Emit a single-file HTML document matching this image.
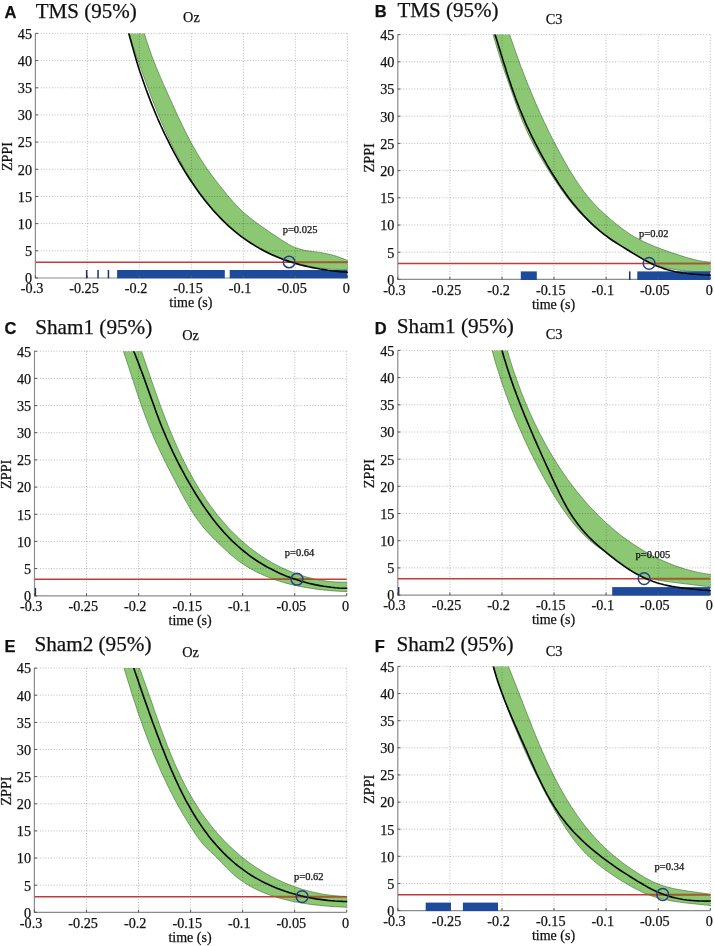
<!DOCTYPE html>
<html><head><meta charset="utf-8"><style>html,body{margin:0;padding:0;background:#fff;}svg{display:block;}</style></head>
<body><svg width="714" height="946" viewBox="0 0 714 946" font-family='"Liberation Serif", serif' fill="#111" style="will-change:transform">
<style>text{stroke:#111;stroke-width:0.25px;}</style>
<rect width="714" height="946" fill="#fff"/>
<path d="M35.4 33.4V278.0H347.4" stroke="#8c8c8c" stroke-width="1.2" fill="none"/>
<clipPath id="clipA"><rect x="35.4" y="33.4" width="312.5" height="245.2"/></clipPath>
<g clip-path="url(#clipA)">
<path d="M143.3 29.4 L144.4 33.4 L145.4 36.9 L146.5 40.4 L147.6 43.9 L148.8 47.3 L150.0 50.7 L151.2 54.2 L152.4 57.6 L153.7 61.0 L155.1 64.3 L156.4 67.7 L157.8 71.1 L159.2 74.4 L160.6 77.7 L162.1 81.1 L163.5 84.4 L165.0 87.7 L166.5 91.0 L168.0 94.4 L169.5 97.7 L171.0 101.0 L172.5 104.3 L174.0 107.6 L175.5 110.9 L177.0 114.2 L178.5 117.5 L180.1 120.8 L181.7 124.1 L183.3 127.4 L184.9 130.6 L186.5 133.9 L188.2 137.1 L189.8 140.3 L191.6 143.5 L193.3 146.7 L195.1 149.8 L196.9 153.0 L198.8 156.1 L200.7 159.2 L202.7 162.2 L204.7 165.2 L206.7 168.2 L208.8 171.2 L210.9 174.2 L213.1 177.1 L215.3 180.0 L217.5 182.8 L219.8 185.7 L222.0 188.5 L224.3 191.3 L226.6 194.2 L228.9 197.0 L231.3 199.7 L233.7 202.5 L236.1 205.1 L238.6 207.7 L241.2 210.3 L243.9 212.7 L246.7 215.1 L249.5 217.4 L252.3 219.6 L255.2 221.8 L258.1 224.0 L261.1 226.1 L264.1 228.2 L267.1 230.2 L270.1 232.3 L273.1 234.3 L276.2 236.3 L279.2 238.4 L282.3 240.4 L285.3 242.3 L288.4 244.2 L291.6 245.9 L294.9 247.4 L298.2 248.6 L301.6 249.6 L305.1 250.4 L308.7 251.0 L312.3 251.5 L315.9 251.9 L319.6 252.4 L323.2 253.0 L326.7 253.7 L330.3 254.5 L333.8 255.4 L337.3 256.5 L340.7 257.8 L344.1 259.1 L347.4 260.6 L351.4 262.5 L351.4 269.3 L347.4 269.4 L343.5 269.5 L339.6 269.5 L335.7 269.4 L331.8 269.2 L327.8 268.9 L323.9 268.5 L320.0 268.0 L316.2 267.5 L312.3 266.8 L308.4 266.1 L304.6 265.2 L300.8 264.3 L297.0 263.3 L293.2 262.2 L289.5 261.0 L285.7 259.7 L282.1 258.3 L278.4 256.9 L274.8 255.4 L271.2 253.8 L267.7 252.1 L264.2 250.3 L260.7 248.5 L257.3 246.5 L253.9 244.6 L250.6 242.5 L247.3 240.3 L244.1 238.1 L241.0 235.8 L237.9 233.5 L234.9 231.0 L231.9 228.5 L229.0 226.0 L226.1 223.3 L223.3 220.6 L220.6 217.9 L217.9 215.1 L215.3 212.2 L212.7 209.3 L210.2 206.3 L207.7 203.3 L205.3 200.2 L202.9 197.1 L200.6 193.9 L198.3 190.7 L196.1 187.5 L193.9 184.2 L191.8 180.9 L189.7 177.5 L187.7 174.2 L185.6 170.8 L183.7 167.3 L181.7 163.9 L179.9 160.4 L178.0 156.9 L176.2 153.4 L174.4 149.9 L172.6 146.4 L170.9 142.8 L169.2 139.3 L167.6 135.7 L166.0 132.2 L164.4 128.6 L162.8 125.0 L161.2 121.4 L159.7 117.8 L158.2 114.2 L156.7 110.6 L155.3 107.0 L153.8 103.4 L152.4 99.7 L151.0 96.1 L149.6 92.5 L148.3 88.8 L146.9 85.2 L145.6 81.5 L144.2 77.8 L142.9 74.2 L141.6 70.5 L140.3 66.8 L139.0 63.1 L137.7 59.4 L136.4 55.7 L135.1 52.0 L133.8 48.3 L132.6 44.6 L131.3 40.8 L130.0 37.1 L128.7 33.4 L127.3 29.4Z" fill="#8cc873" stroke="#4a7a3e" stroke-width="0.8" stroke-opacity="0.85" stroke-linejoin="round"/>
</g><path d="M87.4 33.4V278.0 M139.4 33.4V278.0 M191.4 33.4V278.0 M243.4 33.4V278.0 M295.4 33.4V278.0 M347.4 33.4V278.0 M35.4 250.8H347.4 M35.4 223.6H347.4 M35.4 196.5H347.4 M35.4 169.3H347.4 M35.4 142.1H347.4 M35.4 114.9H347.4 M35.4 87.8H347.4 M35.4 60.6H347.4 M35.4 33.4H347.4" stroke="#000" stroke-opacity="0.27" stroke-width="1" stroke-dasharray="1 1.75" fill="none"/><g clip-path="url(#clipA)">
<path d="M35.4 262.3H347.4" stroke="#c43a3a" stroke-width="1.5"/>
<clipPath id="bclipA"><path d="M143.3 29.4 L144.4 33.4 L145.4 36.9 L146.5 40.4 L147.6 43.9 L148.8 47.3 L150.0 50.7 L151.2 54.2 L152.4 57.6 L153.7 61.0 L155.1 64.3 L156.4 67.7 L157.8 71.1 L159.2 74.4 L160.6 77.7 L162.1 81.1 L163.5 84.4 L165.0 87.7 L166.5 91.0 L168.0 94.4 L169.5 97.7 L171.0 101.0 L172.5 104.3 L174.0 107.6 L175.5 110.9 L177.0 114.2 L178.5 117.5 L180.1 120.8 L181.7 124.1 L183.3 127.4 L184.9 130.6 L186.5 133.9 L188.2 137.1 L189.8 140.3 L191.6 143.5 L193.3 146.7 L195.1 149.8 L196.9 153.0 L198.8 156.1 L200.7 159.2 L202.7 162.2 L204.7 165.2 L206.7 168.2 L208.8 171.2 L210.9 174.2 L213.1 177.1 L215.3 180.0 L217.5 182.8 L219.8 185.7 L222.0 188.5 L224.3 191.3 L226.6 194.2 L228.9 197.0 L231.3 199.7 L233.7 202.5 L236.1 205.1 L238.6 207.7 L241.2 210.3 L243.9 212.7 L246.7 215.1 L249.5 217.4 L252.3 219.6 L255.2 221.8 L258.1 224.0 L261.1 226.1 L264.1 228.2 L267.1 230.2 L270.1 232.3 L273.1 234.3 L276.2 236.3 L279.2 238.4 L282.3 240.4 L285.3 242.3 L288.4 244.2 L291.6 245.9 L294.9 247.4 L298.2 248.6 L301.6 249.6 L305.1 250.4 L308.7 251.0 L312.3 251.5 L315.9 251.9 L319.6 252.4 L323.2 253.0 L326.7 253.7 L330.3 254.5 L333.8 255.4 L337.3 256.5 L340.7 257.8 L344.1 259.1 L347.4 260.6 L351.4 262.5 L351.4 269.3 L347.4 269.4 L343.5 269.5 L339.6 269.5 L335.7 269.4 L331.8 269.2 L327.8 268.9 L323.9 268.5 L320.0 268.0 L316.2 267.5 L312.3 266.8 L308.4 266.1 L304.6 265.2 L300.8 264.3 L297.0 263.3 L293.2 262.2 L289.5 261.0 L285.7 259.7 L282.1 258.3 L278.4 256.9 L274.8 255.4 L271.2 253.8 L267.7 252.1 L264.2 250.3 L260.7 248.5 L257.3 246.5 L253.9 244.6 L250.6 242.5 L247.3 240.3 L244.1 238.1 L241.0 235.8 L237.9 233.5 L234.9 231.0 L231.9 228.5 L229.0 226.0 L226.1 223.3 L223.3 220.6 L220.6 217.9 L217.9 215.1 L215.3 212.2 L212.7 209.3 L210.2 206.3 L207.7 203.3 L205.3 200.2 L202.9 197.1 L200.6 193.9 L198.3 190.7 L196.1 187.5 L193.9 184.2 L191.8 180.9 L189.7 177.5 L187.7 174.2 L185.6 170.8 L183.7 167.3 L181.7 163.9 L179.9 160.4 L178.0 156.9 L176.2 153.4 L174.4 149.9 L172.6 146.4 L170.9 142.8 L169.2 139.3 L167.6 135.7 L166.0 132.2 L164.4 128.6 L162.8 125.0 L161.2 121.4 L159.7 117.8 L158.2 114.2 L156.7 110.6 L155.3 107.0 L153.8 103.4 L152.4 99.7 L151.0 96.1 L149.6 92.5 L148.3 88.8 L146.9 85.2 L145.6 81.5 L144.2 77.8 L142.9 74.2 L141.6 70.5 L140.3 66.8 L139.0 63.1 L137.7 59.4 L136.4 55.7 L135.1 52.0 L133.8 48.3 L132.6 44.6 L131.3 40.8 L130.0 37.1 L128.7 33.4 L127.3 29.4Z"/></clipPath>
<path d="M35.4 262.3H347.4" stroke="#9a5e2a" stroke-width="1.7" clip-path="url(#bclipA)"/>
<rect x="117.1" y="270.0" width="107.7" height="8.6" fill="#1e4a9c"/>
<rect x="229.7" y="270.0" width="117.7" height="8.6" fill="#1e4a9c"/>
<rect x="85.9" y="270.0" width="1.5" height="8.6" fill="#1c2f6e"/>
<rect x="97.3" y="270.0" width="1.5" height="8.6" fill="#1c2f6e"/>
<rect x="107.7" y="270.0" width="1.5" height="8.6" fill="#1c2f6e"/>
<path d="M127.8 29.3 L128.8 33.3 L129.8 37.2 L130.9 41.0 L131.9 44.8 L133.0 48.6 L134.1 52.4 L135.2 56.2 L136.3 59.9 L137.4 63.7 L138.6 67.5 L139.8 71.2 L141.1 74.9 L142.3 78.6 L143.6 82.3 L144.9 86.0 L146.2 89.7 L147.6 93.4 L149.0 97.1 L150.4 100.7 L151.8 104.4 L153.3 108.0 L154.8 111.6 L156.3 115.2 L157.8 118.8 L159.4 122.4 L161.0 126.0 L162.7 129.6 L164.3 133.1 L166.0 136.7 L167.8 140.2 L169.5 143.7 L171.3 147.2 L173.1 150.7 L175.0 154.2 L176.9 157.6 L178.8 161.1 L180.8 164.5 L182.8 167.9 L184.8 171.3 L186.9 174.7 L189.0 178.0 L191.2 181.3 L193.4 184.5 L195.6 187.8 L197.9 191.0 L200.2 194.2 L202.6 197.3 L205.0 200.4 L207.5 203.5 L210.0 206.5 L212.5 209.5 L215.1 212.4 L217.8 215.3 L220.5 218.1 L223.2 220.9 L226.1 223.6 L228.9 226.3 L231.9 228.9 L234.8 231.4 L237.9 233.9 L241.0 236.3 L244.2 238.6 L247.4 240.9 L250.6 243.0 L254.0 245.1 L257.3 247.1 L260.7 249.1 L264.2 250.9 L267.7 252.7 L271.3 254.4 L274.8 256.0 L278.5 257.6 L282.1 259.0 L285.8 260.4 L289.5 261.6 L293.3 262.8 L297.1 263.9 L300.9 265.0 L304.7 265.9 L308.5 266.8 L312.4 267.6 L316.2 268.3 L320.1 269.0 L324.0 269.6 L327.9 270.2 L331.8 270.7 L335.7 271.1 L339.6 271.6 L343.5 271.9 L347.4 272.2 L351.4 272.6" stroke="#080808" stroke-width="1.65" fill="none" stroke-linejoin="round"/>
</g>
<circle cx="289.1" cy="262" r="5.8" stroke="#25408a" stroke-width="1.5" fill="none"/>
<text x="282.7" y="232.9" font-size="10.5">p=0.025</text>
<path d="M35.4 278.0h2.6 M35.4 250.8h2.6 M35.4 223.6h2.6 M35.4 196.5h2.6 M35.4 169.3h2.6 M35.4 142.1h2.6 M35.4 114.9h2.6 M35.4 87.8h2.6 M35.4 60.6h2.6 M35.4 33.4h2.6 M35.4 278.0v-2.6 M87.4 278.0v-2.6 M139.4 278.0v-2.6 M191.4 278.0v-2.6 M243.4 278.0v-2.6 M295.4 278.0v-2.6 M347.4 278.0v-2.6" stroke="#555" stroke-width="1" fill="none"/>
<text x="32.0" y="283.3" text-anchor="end" font-size="14.2">0</text>
<text x="32.0" y="256.1" text-anchor="end" font-size="14.2">5</text>
<text x="32.0" y="228.9" text-anchor="end" font-size="14.2">10</text>
<text x="32.0" y="201.8" text-anchor="end" font-size="14.2">15</text>
<text x="32.0" y="174.6" text-anchor="end" font-size="14.2">20</text>
<text x="32.0" y="147.4" text-anchor="end" font-size="14.2">25</text>
<text x="32.0" y="120.2" text-anchor="end" font-size="14.2">30</text>
<text x="32.0" y="93.1" text-anchor="end" font-size="14.2">35</text>
<text x="32.0" y="65.9" text-anchor="end" font-size="14.2">40</text>
<text x="32.0" y="38.7" text-anchor="end" font-size="14.2">45</text>
<text x="43.3" y="293.2" text-anchor="end" font-size="14.2">-0.3</text>
<text x="98.8" y="293.2" text-anchor="end" font-size="14.2">-0.25</text>
<text x="147.3" y="293.2" text-anchor="end" font-size="14.2">-0.2</text>
<text x="202.8" y="293.2" text-anchor="end" font-size="14.2">-0.15</text>
<text x="251.3" y="293.2" text-anchor="end" font-size="14.2">-0.1</text>
<text x="306.8" y="293.2" text-anchor="end" font-size="14.2">-0.05</text>
<text x="349.9" y="293.2" text-anchor="end" font-size="14.2">0</text>
<text x="190.9" y="307.3" text-anchor="middle" font-size="14">time (s)</text>
<text transform="translate(11.9 156.5) rotate(-90)" text-anchor="middle" font-size="14.2">ZPPI</text>
<text x="4.5" y="17.6" font-family='"Liberation Sans", sans-serif' font-weight="bold" font-size="16.5">A</text>
<text x="35.8" y="17.6" font-size="21">TMS (95%)</text>
<text x="191.4" y="21.7" text-anchor="middle" font-size="14.3">Oz</text>
<path d="M397.8 34.6V279.4H710.3" stroke="#8c8c8c" stroke-width="1.2" fill="none"/>
<clipPath id="clipB"><rect x="397.8" y="34.6" width="313.0" height="245.4"/></clipPath>
<g clip-path="url(#clipB)">
<path d="M508.3 30.6 L509.7 34.6 L510.8 38.1 L512.0 41.5 L513.2 44.9 L514.4 48.3 L515.6 51.8 L516.8 55.2 L518.0 58.6 L519.3 62.0 L520.5 65.4 L521.8 68.8 L523.1 72.2 L524.4 75.6 L525.7 79.0 L527.1 82.4 L528.4 85.7 L529.8 89.1 L531.2 92.4 L532.6 95.8 L534.0 99.1 L535.4 102.5 L536.9 105.8 L538.4 109.1 L539.8 112.5 L541.3 115.8 L542.9 119.1 L544.4 122.4 L546.0 125.6 L547.5 128.9 L549.1 132.2 L550.8 135.4 L552.4 138.7 L554.0 141.9 L555.7 145.1 L557.4 148.3 L559.1 151.5 L560.9 154.7 L562.6 157.9 L564.4 161.1 L566.2 164.2 L568.0 167.4 L569.8 170.5 L571.7 173.6 L573.7 176.7 L575.6 179.7 L577.6 182.7 L579.7 185.7 L581.8 188.7 L583.9 191.6 L586.1 194.4 L588.4 197.2 L590.7 200.0 L593.1 202.7 L595.6 205.3 L598.1 207.9 L600.7 210.5 L603.4 213.0 L606.1 215.4 L608.9 217.8 L611.6 220.2 L614.4 222.5 L617.3 224.8 L620.1 227.1 L623.0 229.3 L626.0 231.4 L628.9 233.4 L632.0 235.4 L635.0 237.2 L638.2 238.9 L641.4 240.6 L644.6 242.1 L647.9 243.6 L651.2 245.0 L654.5 246.4 L657.9 247.7 L661.3 249.0 L664.8 250.3 L668.2 251.5 L671.7 252.7 L675.1 253.8 L678.6 255.0 L682.0 256.1 L685.5 257.2 L689.0 258.2 L692.5 259.1 L696.0 260.0 L699.5 260.7 L703.1 261.4 L706.6 261.8 L710.2 262.2 L714.2 262.5 L714.4 271.8 L710.4 271.8 L706.4 271.8 L702.5 271.8 L698.5 271.7 L694.6 271.6 L690.6 271.3 L686.7 271.0 L682.8 270.7 L678.9 270.2 L675.0 269.6 L671.2 268.9 L667.4 268.1 L663.7 267.1 L660.0 266.0 L656.4 264.7 L652.8 263.3 L649.3 261.7 L645.8 260.0 L642.3 258.2 L638.9 256.4 L635.5 254.4 L632.1 252.5 L628.7 250.5 L625.4 248.5 L622.0 246.4 L618.7 244.3 L615.4 242.1 L612.1 239.9 L608.8 237.7 L605.6 235.4 L602.5 233.0 L599.3 230.6 L596.3 228.2 L593.3 225.7 L590.4 223.1 L587.5 220.5 L584.7 217.8 L582.0 215.0 L579.3 212.2 L576.7 209.3 L574.2 206.4 L571.7 203.4 L569.3 200.4 L566.9 197.3 L564.6 194.2 L562.3 191.0 L560.1 187.8 L557.8 184.6 L555.7 181.4 L553.5 178.1 L551.4 174.8 L549.3 171.5 L547.2 168.2 L545.2 164.8 L543.1 161.5 L541.1 158.1 L539.2 154.7 L537.2 151.2 L535.3 147.8 L533.5 144.4 L531.7 140.9 L529.9 137.4 L528.2 133.9 L526.6 130.4 L525.0 126.8 L523.4 123.3 L521.9 119.7 L520.5 116.1 L519.1 112.4 L517.7 108.8 L516.4 105.1 L515.1 101.4 L513.8 97.8 L512.5 94.1 L511.2 90.4 L509.9 86.7 L508.6 83.0 L507.3 79.3 L506.0 75.6 L504.7 71.9 L503.5 68.2 L502.3 64.5 L501.0 60.8 L499.8 57.1 L498.7 53.3 L497.5 49.6 L496.4 45.9 L495.3 42.1 L494.2 38.4 L493.1 34.6 L492.0 30.6Z" fill="#8cc873" stroke="#4a7a3e" stroke-width="0.8" stroke-opacity="0.85" stroke-linejoin="round"/>
</g><path d="M449.9 34.6V279.4 M502.0 34.6V279.4 M554.0 34.6V279.4 M606.1 34.6V279.4 M658.2 34.6V279.4 M710.3 34.6V279.4 M397.8 252.2H710.3 M397.8 225.0H710.3 M397.8 197.8H710.3 M397.8 170.6H710.3 M397.8 143.4H710.3 M397.8 116.2H710.3 M397.8 89.0H710.3 M397.8 61.8H710.3 M397.8 34.6H710.3" stroke="#000" stroke-opacity="0.27" stroke-width="1" stroke-dasharray="1 1.75" fill="none"/><g clip-path="url(#clipB)">
<path d="M397.8 263.5H710.3" stroke="#c43a3a" stroke-width="1.5"/>
<clipPath id="bclipB"><path d="M508.3 30.6 L509.7 34.6 L510.8 38.1 L512.0 41.5 L513.2 44.9 L514.4 48.3 L515.6 51.8 L516.8 55.2 L518.0 58.6 L519.3 62.0 L520.5 65.4 L521.8 68.8 L523.1 72.2 L524.4 75.6 L525.7 79.0 L527.1 82.4 L528.4 85.7 L529.8 89.1 L531.2 92.4 L532.6 95.8 L534.0 99.1 L535.4 102.5 L536.9 105.8 L538.4 109.1 L539.8 112.5 L541.3 115.8 L542.9 119.1 L544.4 122.4 L546.0 125.6 L547.5 128.9 L549.1 132.2 L550.8 135.4 L552.4 138.7 L554.0 141.9 L555.7 145.1 L557.4 148.3 L559.1 151.5 L560.9 154.7 L562.6 157.9 L564.4 161.1 L566.2 164.2 L568.0 167.4 L569.8 170.5 L571.7 173.6 L573.7 176.7 L575.6 179.7 L577.6 182.7 L579.7 185.7 L581.8 188.7 L583.9 191.6 L586.1 194.4 L588.4 197.2 L590.7 200.0 L593.1 202.7 L595.6 205.3 L598.1 207.9 L600.7 210.5 L603.4 213.0 L606.1 215.4 L608.9 217.8 L611.6 220.2 L614.4 222.5 L617.3 224.8 L620.1 227.1 L623.0 229.3 L626.0 231.4 L628.9 233.4 L632.0 235.4 L635.0 237.2 L638.2 238.9 L641.4 240.6 L644.6 242.1 L647.9 243.6 L651.2 245.0 L654.5 246.4 L657.9 247.7 L661.3 249.0 L664.8 250.3 L668.2 251.5 L671.7 252.7 L675.1 253.8 L678.6 255.0 L682.0 256.1 L685.5 257.2 L689.0 258.2 L692.5 259.1 L696.0 260.0 L699.5 260.7 L703.1 261.4 L706.6 261.8 L710.2 262.2 L714.2 262.5 L714.4 271.8 L710.4 271.8 L706.4 271.8 L702.5 271.8 L698.5 271.7 L694.6 271.6 L690.6 271.3 L686.7 271.0 L682.8 270.7 L678.9 270.2 L675.0 269.6 L671.2 268.9 L667.4 268.1 L663.7 267.1 L660.0 266.0 L656.4 264.7 L652.8 263.3 L649.3 261.7 L645.8 260.0 L642.3 258.2 L638.9 256.4 L635.5 254.4 L632.1 252.5 L628.7 250.5 L625.4 248.5 L622.0 246.4 L618.7 244.3 L615.4 242.1 L612.1 239.9 L608.8 237.7 L605.6 235.4 L602.5 233.0 L599.3 230.6 L596.3 228.2 L593.3 225.7 L590.4 223.1 L587.5 220.5 L584.7 217.8 L582.0 215.0 L579.3 212.2 L576.7 209.3 L574.2 206.4 L571.7 203.4 L569.3 200.4 L566.9 197.3 L564.6 194.2 L562.3 191.0 L560.1 187.8 L557.8 184.6 L555.7 181.4 L553.5 178.1 L551.4 174.8 L549.3 171.5 L547.2 168.2 L545.2 164.8 L543.1 161.5 L541.1 158.1 L539.2 154.7 L537.2 151.2 L535.3 147.8 L533.5 144.4 L531.7 140.9 L529.9 137.4 L528.2 133.9 L526.6 130.4 L525.0 126.8 L523.4 123.3 L521.9 119.7 L520.5 116.1 L519.1 112.4 L517.7 108.8 L516.4 105.1 L515.1 101.4 L513.8 97.8 L512.5 94.1 L511.2 90.4 L509.9 86.7 L508.6 83.0 L507.3 79.3 L506.0 75.6 L504.7 71.9 L503.5 68.2 L502.3 64.5 L501.0 60.8 L499.8 57.1 L498.7 53.3 L497.5 49.6 L496.4 45.9 L495.3 42.1 L494.2 38.4 L493.1 34.6 L492.0 30.6Z"/></clipPath>
<path d="M397.8 263.5H710.3" stroke="#9a5e2a" stroke-width="1.7" clip-path="url(#bclipB)"/>
<rect x="520.8" y="271.4" width="16.0" height="8.6" fill="#1e4a9c"/>
<rect x="637.3" y="271.4" width="73.0" height="8.6" fill="#1e4a9c"/>
<rect x="629.0" y="271.4" width="1.5" height="8.6" fill="#1c2f6e"/>
<path d="M493.7 30.6 L495.0 34.6 L496.2 38.3 L497.4 42.0 L498.5 45.7 L499.7 49.5 L500.8 53.2 L502.0 56.9 L503.1 60.7 L504.3 64.4 L505.5 68.1 L506.6 71.9 L507.8 75.6 L509.0 79.3 L510.3 83.0 L511.5 86.7 L512.8 90.4 L514.1 94.1 L515.4 97.8 L516.8 101.5 L518.2 105.1 L519.6 108.7 L521.1 112.3 L522.6 115.9 L524.1 119.5 L525.6 123.1 L527.2 126.6 L528.9 130.1 L530.5 133.6 L532.2 137.1 L534.0 140.6 L535.7 144.1 L537.5 147.5 L539.3 151.0 L541.2 154.4 L543.1 157.8 L545.0 161.2 L546.9 164.6 L548.9 168.0 L550.9 171.4 L553.0 174.7 L555.1 178.0 L557.2 181.3 L559.3 184.6 L561.5 187.8 L563.8 191.0 L566.1 194.2 L568.4 197.4 L570.8 200.5 L573.2 203.5 L575.7 206.5 L578.2 209.5 L580.8 212.4 L583.4 215.3 L586.1 218.1 L588.8 220.9 L591.6 223.6 L594.5 226.3 L597.4 228.9 L600.3 231.4 L603.4 233.8 L606.5 236.2 L609.6 238.5 L612.9 240.7 L616.1 242.8 L619.4 244.9 L622.7 246.9 L626.1 249.0 L629.4 251.0 L632.7 253.1 L636.1 255.1 L639.4 257.1 L642.8 259.1 L646.2 261.0 L649.7 262.7 L653.2 264.4 L656.8 265.9 L660.4 267.3 L664.0 268.6 L667.7 269.8 L671.5 270.8 L675.3 271.7 L679.1 272.4 L683.0 273.0 L686.9 273.5 L690.8 273.9 L694.7 274.2 L698.7 274.5 L702.6 274.8 L706.5 275.0 L710.3 275.3 L714.3 275.5" stroke="#080808" stroke-width="1.65" fill="none" stroke-linejoin="round"/>
</g>
<circle cx="649.1" cy="263.4" r="5.9" stroke="#25408a" stroke-width="1.5" fill="none"/>
<text x="639" y="236.7" font-size="10.5">p=0.02</text>
<path d="M397.8 279.4h2.6 M397.8 252.2h2.6 M397.8 225.0h2.6 M397.8 197.8h2.6 M397.8 170.6h2.6 M397.8 143.4h2.6 M397.8 116.2h2.6 M397.8 89.0h2.6 M397.8 61.8h2.6 M397.8 34.6h2.6 M397.8 279.4v-2.6 M449.9 279.4v-2.6 M502.0 279.4v-2.6 M554.0 279.4v-2.6 M606.1 279.4v-2.6 M658.2 279.4v-2.6 M710.3 279.4v-2.6" stroke="#555" stroke-width="1" fill="none"/>
<text x="394.4" y="284.7" text-anchor="end" font-size="14.2">0</text>
<text x="394.4" y="257.5" text-anchor="end" font-size="14.2">5</text>
<text x="394.4" y="230.3" text-anchor="end" font-size="14.2">10</text>
<text x="394.4" y="203.1" text-anchor="end" font-size="14.2">15</text>
<text x="394.4" y="175.9" text-anchor="end" font-size="14.2">20</text>
<text x="394.4" y="148.7" text-anchor="end" font-size="14.2">25</text>
<text x="394.4" y="121.5" text-anchor="end" font-size="14.2">30</text>
<text x="394.4" y="94.3" text-anchor="end" font-size="14.2">35</text>
<text x="394.4" y="67.1" text-anchor="end" font-size="14.2">40</text>
<text x="394.4" y="39.9" text-anchor="end" font-size="14.2">45</text>
<text x="405.7" y="294.6" text-anchor="end" font-size="14.2">-0.3</text>
<text x="461.3" y="294.6" text-anchor="end" font-size="14.2">-0.25</text>
<text x="509.8" y="294.6" text-anchor="end" font-size="14.2">-0.2</text>
<text x="565.5" y="294.6" text-anchor="end" font-size="14.2">-0.15</text>
<text x="614.0" y="294.6" text-anchor="end" font-size="14.2">-0.1</text>
<text x="669.6" y="294.6" text-anchor="end" font-size="14.2">-0.05</text>
<text x="712.8" y="294.6" text-anchor="end" font-size="14.2">0</text>
<text x="553.5" y="308.7" text-anchor="middle" font-size="14">time (s)</text>
<text transform="translate(374.3 157.8) rotate(-90)" text-anchor="middle" font-size="14.2">ZPPI</text>
<text x="374.7" y="17.1" font-family='"Liberation Sans", sans-serif' font-weight="bold" font-size="16.5">B</text>
<text x="397.5" y="16.8" font-size="21">TMS (95%)</text>
<text x="554.0" y="23.8" text-anchor="middle" font-size="14.3">C3</text>
<path d="M34.5 351.2V595.8H346.7" stroke="#8c8c8c" stroke-width="1.2" fill="none"/>
<clipPath id="clipC"><rect x="34.5" y="351.2" width="312.7" height="245.2"/></clipPath>
<g clip-path="url(#clipC)">
<path d="M140.2 347.4 L141.5 351.4 L142.7 354.9 L143.9 358.3 L145.1 361.8 L146.3 365.3 L147.5 368.8 L148.7 372.3 L149.9 375.8 L151.1 379.3 L152.3 382.8 L153.6 386.4 L154.8 389.9 L156.0 393.4 L157.3 396.9 L158.6 400.4 L159.8 404.0 L161.1 407.5 L162.4 411.0 L163.8 414.5 L165.1 418.0 L166.5 421.5 L167.8 425.0 L169.2 428.5 L170.7 432.0 L172.1 435.4 L173.6 438.9 L175.1 442.3 L176.6 445.8 L178.1 449.2 L179.7 452.6 L181.3 456.0 L182.9 459.3 L184.6 462.7 L186.3 466.0 L188.0 469.4 L189.8 472.7 L191.6 476.0 L193.4 479.2 L195.3 482.5 L197.2 485.7 L199.1 488.9 L201.1 492.1 L203.2 495.2 L205.2 498.4 L207.4 501.4 L209.5 504.5 L211.7 507.5 L214.0 510.5 L216.2 513.5 L218.6 516.4 L221.0 519.3 L223.4 522.1 L225.8 524.9 L228.3 527.7 L230.9 530.4 L233.5 533.0 L236.1 535.6 L238.8 538.2 L241.6 540.7 L244.4 543.1 L247.2 545.5 L250.1 547.9 L253.0 550.1 L256.0 552.3 L259.0 554.5 L262.1 556.6 L265.2 558.6 L268.4 560.5 L271.6 562.4 L274.8 564.2 L278.1 565.9 L281.4 567.6 L284.8 569.1 L288.2 570.6 L291.6 572.0 L295.1 573.3 L298.6 574.6 L302.2 575.7 L305.8 576.8 L309.4 577.8 L313.1 578.7 L316.7 579.5 L320.5 580.2 L324.2 580.8 L328.0 581.3 L331.8 581.7 L335.6 582.0 L339.5 582.1 L343.4 582.2 L347.3 582.2 L351.3 582.2 L350.7 591.8 L346.7 591.6 L342.7 591.4 L338.7 591.2 L334.8 591.0 L330.8 590.7 L326.8 590.3 L322.8 589.9 L318.7 589.4 L314.7 588.9 L310.7 588.3 L306.7 587.7 L302.8 587.0 L298.8 586.2 L294.9 585.3 L290.9 584.4 L287.0 583.4 L283.2 582.3 L279.3 581.1 L275.5 579.9 L271.7 578.5 L268.0 577.1 L264.3 575.6 L260.7 573.9 L257.1 572.2 L253.6 570.4 L250.1 568.5 L246.7 566.4 L243.3 564.3 L240.0 562.0 L236.8 559.6 L233.7 557.1 L230.6 554.5 L227.6 551.8 L224.6 549.0 L221.6 546.3 L218.7 543.4 L215.8 540.6 L212.9 537.7 L210.1 534.8 L207.4 531.9 L204.7 528.9 L202.1 525.8 L199.7 522.6 L197.3 519.4 L195.0 516.2 L192.8 512.8 L190.7 509.5 L188.7 506.0 L186.7 502.6 L184.7 499.1 L182.8 495.6 L180.9 492.1 L179.1 488.5 L177.2 485.0 L175.3 481.4 L173.5 477.9 L171.6 474.3 L169.8 470.7 L167.9 467.2 L166.1 463.6 L164.3 460.0 L162.6 456.4 L160.8 452.8 L159.1 449.1 L157.4 445.5 L155.7 441.9 L154.1 438.2 L152.5 434.5 L151.0 430.8 L149.5 427.1 L148.0 423.4 L146.6 419.6 L145.2 415.9 L143.8 412.1 L142.4 408.3 L141.1 404.6 L139.8 400.8 L138.5 397.0 L137.2 393.2 L136.0 389.3 L134.7 385.5 L133.5 381.7 L132.2 377.9 L131.0 374.1 L129.7 370.3 L128.5 366.4 L127.2 362.6 L126.0 358.8 L124.7 355.0 L123.4 351.2 L122.0 347.2Z" fill="#8cc873" stroke="#4a7a3e" stroke-width="0.8" stroke-opacity="0.85" stroke-linejoin="round"/>
</g><path d="M86.5 351.2V595.8 M138.6 351.2V595.8 M190.6 351.2V595.8 M242.6 351.2V595.8 M294.7 351.2V595.8 M346.7 351.2V595.8 M34.5 568.6H346.7 M34.5 541.4H346.7 M34.5 514.3H346.7 M34.5 487.1H346.7 M34.5 459.9H346.7 M34.5 432.7H346.7 M34.5 405.6H346.7 M34.5 378.4H346.7 M34.5 351.2H346.7" stroke="#000" stroke-opacity="0.27" stroke-width="1" stroke-dasharray="1 1.75" fill="none"/><g clip-path="url(#clipC)">
<path d="M34.5 579.2H346.7" stroke="#c43a3a" stroke-width="1.5"/>
<clipPath id="bclipC"><path d="M140.2 347.4 L141.5 351.4 L142.7 354.9 L143.9 358.3 L145.1 361.8 L146.3 365.3 L147.5 368.8 L148.7 372.3 L149.9 375.8 L151.1 379.3 L152.3 382.8 L153.6 386.4 L154.8 389.9 L156.0 393.4 L157.3 396.9 L158.6 400.4 L159.8 404.0 L161.1 407.5 L162.4 411.0 L163.8 414.5 L165.1 418.0 L166.5 421.5 L167.8 425.0 L169.2 428.5 L170.7 432.0 L172.1 435.4 L173.6 438.9 L175.1 442.3 L176.6 445.8 L178.1 449.2 L179.7 452.6 L181.3 456.0 L182.9 459.3 L184.6 462.7 L186.3 466.0 L188.0 469.4 L189.8 472.7 L191.6 476.0 L193.4 479.2 L195.3 482.5 L197.2 485.7 L199.1 488.9 L201.1 492.1 L203.2 495.2 L205.2 498.4 L207.4 501.4 L209.5 504.5 L211.7 507.5 L214.0 510.5 L216.2 513.5 L218.6 516.4 L221.0 519.3 L223.4 522.1 L225.8 524.9 L228.3 527.7 L230.9 530.4 L233.5 533.0 L236.1 535.6 L238.8 538.2 L241.6 540.7 L244.4 543.1 L247.2 545.5 L250.1 547.9 L253.0 550.1 L256.0 552.3 L259.0 554.5 L262.1 556.6 L265.2 558.6 L268.4 560.5 L271.6 562.4 L274.8 564.2 L278.1 565.9 L281.4 567.6 L284.8 569.1 L288.2 570.6 L291.6 572.0 L295.1 573.3 L298.6 574.6 L302.2 575.7 L305.8 576.8 L309.4 577.8 L313.1 578.7 L316.7 579.5 L320.5 580.2 L324.2 580.8 L328.0 581.3 L331.8 581.7 L335.6 582.0 L339.5 582.1 L343.4 582.2 L347.3 582.2 L351.3 582.2 L350.7 591.8 L346.7 591.6 L342.7 591.4 L338.7 591.2 L334.8 591.0 L330.8 590.7 L326.8 590.3 L322.8 589.9 L318.7 589.4 L314.7 588.9 L310.7 588.3 L306.7 587.7 L302.8 587.0 L298.8 586.2 L294.9 585.3 L290.9 584.4 L287.0 583.4 L283.2 582.3 L279.3 581.1 L275.5 579.9 L271.7 578.5 L268.0 577.1 L264.3 575.6 L260.7 573.9 L257.1 572.2 L253.6 570.4 L250.1 568.5 L246.7 566.4 L243.3 564.3 L240.0 562.0 L236.8 559.6 L233.7 557.1 L230.6 554.5 L227.6 551.8 L224.6 549.0 L221.6 546.3 L218.7 543.4 L215.8 540.6 L212.9 537.7 L210.1 534.8 L207.4 531.9 L204.7 528.9 L202.1 525.8 L199.7 522.6 L197.3 519.4 L195.0 516.2 L192.8 512.8 L190.7 509.5 L188.7 506.0 L186.7 502.6 L184.7 499.1 L182.8 495.6 L180.9 492.1 L179.1 488.5 L177.2 485.0 L175.3 481.4 L173.5 477.9 L171.6 474.3 L169.8 470.7 L167.9 467.2 L166.1 463.6 L164.3 460.0 L162.6 456.4 L160.8 452.8 L159.1 449.1 L157.4 445.5 L155.7 441.9 L154.1 438.2 L152.5 434.5 L151.0 430.8 L149.5 427.1 L148.0 423.4 L146.6 419.6 L145.2 415.9 L143.8 412.1 L142.4 408.3 L141.1 404.6 L139.8 400.8 L138.5 397.0 L137.2 393.2 L136.0 389.3 L134.7 385.5 L133.5 381.7 L132.2 377.9 L131.0 374.1 L129.7 370.3 L128.5 366.4 L127.2 362.6 L126.0 358.8 L124.7 355.0 L123.4 351.2 L122.0 347.2Z"/></clipPath>
<path d="M34.5 579.2H346.7" stroke="#9a5e2a" stroke-width="1.7" clip-path="url(#bclipC)"/>
<rect x="34.6" y="587.8" width="1.5" height="8.6" fill="#1c2f6e"/>
<path d="M132.1 347.2 L133.7 351.2 L135.2 354.8 L136.6 358.4 L138.0 362.0 L139.4 365.6 L140.7 369.2 L142.1 372.8 L143.4 376.4 L144.7 380.0 L146.0 383.6 L147.3 387.3 L148.6 390.9 L149.9 394.5 L151.2 398.2 L152.5 401.8 L153.8 405.4 L155.1 409.0 L156.4 412.7 L157.8 416.3 L159.1 419.9 L160.5 423.5 L161.9 427.0 L163.4 430.6 L164.9 434.1 L166.4 437.7 L167.9 441.2 L169.5 444.7 L171.1 448.2 L172.7 451.7 L174.4 455.2 L176.1 458.6 L177.8 462.0 L179.6 465.5 L181.4 468.9 L183.2 472.2 L185.0 475.6 L186.9 479.0 L188.8 482.3 L190.8 485.6 L192.7 488.9 L194.7 492.2 L196.7 495.5 L198.8 498.8 L200.9 502.0 L203.0 505.2 L205.2 508.4 L207.4 511.5 L209.6 514.6 L211.9 517.7 L214.2 520.7 L216.6 523.7 L219.1 526.7 L221.6 529.6 L224.1 532.5 L226.7 535.3 L229.4 538.1 L232.1 540.8 L234.9 543.4 L237.8 546.0 L240.7 548.6 L243.6 551.0 L246.6 553.4 L249.7 555.8 L252.8 558.0 L256.0 560.2 L259.2 562.3 L262.5 564.3 L265.8 566.2 L269.2 568.1 L272.6 569.8 L276.0 571.5 L279.5 573.2 L283.1 574.7 L286.6 576.2 L290.2 577.5 L293.8 578.8 L297.5 580.0 L301.2 581.2 L304.9 582.2 L308.6 583.2 L312.4 584.1 L316.1 584.9 L319.9 585.6 L323.7 586.3 L327.5 586.8 L331.3 587.3 L335.2 587.7 L339.0 588.0 L342.8 588.2 L346.7 588.3 L350.7 588.5" stroke="#080808" stroke-width="1.65" fill="none" stroke-linejoin="round"/>
</g>
<circle cx="297" cy="579.2" r="5.9" stroke="#25408a" stroke-width="1.5" fill="none"/>
<text x="284.8" y="556.4" font-size="10.5">p=0.64</text>
<path d="M34.5 595.8h2.6 M34.5 568.6h2.6 M34.5 541.4h2.6 M34.5 514.3h2.6 M34.5 487.1h2.6 M34.5 459.9h2.6 M34.5 432.7h2.6 M34.5 405.6h2.6 M34.5 378.4h2.6 M34.5 351.2h2.6 M34.5 595.8v-2.6 M86.5 595.8v-2.6 M138.6 595.8v-2.6 M190.6 595.8v-2.6 M242.6 595.8v-2.6 M294.7 595.8v-2.6 M346.7 595.8v-2.6" stroke="#555" stroke-width="1" fill="none"/>
<text x="31.1" y="601.1" text-anchor="end" font-size="14.2">0</text>
<text x="31.1" y="573.9" text-anchor="end" font-size="14.2">5</text>
<text x="31.1" y="546.7" text-anchor="end" font-size="14.2">10</text>
<text x="31.1" y="519.6" text-anchor="end" font-size="14.2">15</text>
<text x="31.1" y="492.4" text-anchor="end" font-size="14.2">20</text>
<text x="31.1" y="465.2" text-anchor="end" font-size="14.2">25</text>
<text x="31.1" y="438.0" text-anchor="end" font-size="14.2">30</text>
<text x="31.1" y="410.9" text-anchor="end" font-size="14.2">35</text>
<text x="31.1" y="383.7" text-anchor="end" font-size="14.2">40</text>
<text x="31.1" y="356.5" text-anchor="end" font-size="14.2">45</text>
<text x="42.4" y="611.0" text-anchor="end" font-size="14.2">-0.3</text>
<text x="98.0" y="611.0" text-anchor="end" font-size="14.2">-0.25</text>
<text x="146.4" y="611.0" text-anchor="end" font-size="14.2">-0.2</text>
<text x="202.0" y="611.0" text-anchor="end" font-size="14.2">-0.15</text>
<text x="250.5" y="611.0" text-anchor="end" font-size="14.2">-0.1</text>
<text x="306.1" y="611.0" text-anchor="end" font-size="14.2">-0.05</text>
<text x="349.2" y="611.0" text-anchor="end" font-size="14.2">0</text>
<text x="190.1" y="625.1" text-anchor="middle" font-size="14">time (s)</text>
<text transform="translate(11.0 474.3) rotate(-90)" text-anchor="middle" font-size="14.2">ZPPI</text>
<text x="4.6" y="333.6" font-family='"Liberation Sans", sans-serif' font-weight="bold" font-size="16.5">C</text>
<text x="35.2" y="333.6" font-size="21.2">Sham1 (95%)</text>
<text x="190.6" y="340.0" text-anchor="middle" font-size="14.3">Oz</text>
<path d="M397.8 350.4V595.1H710.3" stroke="#8c8c8c" stroke-width="1.2" fill="none"/>
<clipPath id="clipD"><rect x="397.8" y="350.4" width="313.0" height="245.3"/></clipPath>
<g clip-path="url(#clipD)">
<path d="M506.1 346.6 L507.3 350.6 L508.3 354.0 L509.3 357.3 L510.3 360.7 L511.4 364.0 L512.5 367.4 L513.6 370.8 L514.7 374.1 L515.9 377.5 L517.1 380.9 L518.3 384.2 L519.6 387.6 L520.8 390.9 L522.1 394.3 L523.5 397.6 L524.8 400.9 L526.2 404.2 L527.6 407.6 L529.0 410.9 L530.5 414.2 L532.0 417.5 L533.5 420.7 L535.1 424.0 L536.7 427.2 L538.3 430.5 L539.9 433.7 L541.6 436.9 L543.3 440.1 L545.0 443.3 L546.7 446.4 L548.5 449.6 L550.3 452.7 L552.2 455.8 L554.1 458.9 L556.0 462.0 L557.9 465.0 L559.9 468.0 L561.9 471.0 L563.9 474.0 L566.0 476.9 L568.0 479.9 L570.2 482.8 L572.3 485.6 L574.5 488.5 L576.7 491.3 L579.0 494.1 L581.3 496.8 L583.6 499.6 L585.9 502.3 L588.3 504.9 L590.7 507.6 L593.2 510.2 L595.7 512.7 L598.2 515.3 L600.7 517.8 L603.3 520.2 L605.9 522.7 L608.6 525.0 L611.3 527.4 L614.0 529.7 L616.7 532.0 L619.5 534.2 L622.3 536.4 L625.2 538.5 L628.1 540.6 L631.0 542.7 L634.0 544.7 L637.0 546.6 L640.0 548.5 L643.1 550.4 L646.2 552.2 L649.3 554.0 L652.4 555.7 L655.6 557.3 L658.8 558.9 L662.1 560.4 L665.4 561.8 L668.7 563.2 L672.0 564.6 L675.4 565.8 L678.8 567.0 L682.2 568.1 L685.6 569.2 L689.1 570.2 L692.6 571.1 L696.1 571.9 L699.6 572.7 L703.2 573.4 L706.8 574.0 L710.4 574.5 L714.4 575.1 L714.3 587.2 L710.3 586.8 L706.4 586.3 L702.5 585.9 L698.6 585.4 L694.7 585.0 L690.8 584.5 L686.9 584.0 L683.0 583.6 L679.1 583.1 L675.2 582.6 L671.3 582.1 L667.4 581.6 L663.5 581.0 L659.6 580.4 L655.7 579.8 L651.9 579.1 L648.1 578.3 L644.4 577.2 L640.7 576.0 L637.3 574.4 L633.9 572.5 L630.7 570.3 L627.5 567.9 L624.4 565.5 L621.3 563.0 L618.1 560.6 L614.9 558.3 L611.7 556.1 L608.4 553.9 L605.2 551.7 L601.9 549.6 L598.7 547.4 L595.6 545.2 L592.5 542.8 L589.6 540.3 L586.7 537.7 L583.9 535.0 L581.2 532.2 L578.6 529.3 L576.0 526.4 L573.5 523.4 L571.1 520.4 L568.7 517.3 L566.4 514.1 L564.1 510.9 L561.9 507.7 L559.7 504.4 L557.6 501.1 L555.5 497.8 L553.4 494.4 L551.4 491.0 L549.4 487.6 L547.5 484.2 L545.5 480.8 L543.6 477.3 L541.7 473.8 L539.9 470.4 L538.0 466.9 L536.2 463.4 L534.4 459.9 L532.7 456.4 L530.9 452.9 L529.2 449.4 L527.5 445.9 L525.8 442.3 L524.2 438.8 L522.6 435.2 L521.0 431.6 L519.4 428.0 L517.9 424.4 L516.3 420.8 L514.8 417.2 L513.4 413.6 L511.9 410.0 L510.5 406.3 L509.1 402.7 L507.7 399.0 L506.3 395.3 L505.0 391.6 L503.7 387.9 L502.4 384.2 L501.2 380.5 L500.0 376.8 L498.8 373.0 L497.6 369.3 L496.4 365.5 L495.3 361.8 L494.2 358.0 L493.2 354.2 L492.1 350.4 L491.0 346.4Z" fill="#8cc873" stroke="#4a7a3e" stroke-width="0.8" stroke-opacity="0.85" stroke-linejoin="round"/>
</g><path d="M449.9 350.4V595.1 M502.0 350.4V595.1 M554.0 350.4V595.1 M606.1 350.4V595.1 M658.2 350.4V595.1 M710.3 350.4V595.1 M397.8 567.9H710.3 M397.8 540.7H710.3 M397.8 513.5H710.3 M397.8 486.3H710.3 M397.8 459.2H710.3 M397.8 432.0H710.3 M397.8 404.8H710.3 M397.8 377.6H710.3 M397.8 350.4H710.3" stroke="#000" stroke-opacity="0.27" stroke-width="1" stroke-dasharray="1 1.75" fill="none"/><g clip-path="url(#clipD)">
<path d="M397.8 578.7H710.3" stroke="#c43a3a" stroke-width="1.5"/>
<clipPath id="bclipD"><path d="M506.1 346.6 L507.3 350.6 L508.3 354.0 L509.3 357.3 L510.3 360.7 L511.4 364.0 L512.5 367.4 L513.6 370.8 L514.7 374.1 L515.9 377.5 L517.1 380.9 L518.3 384.2 L519.6 387.6 L520.8 390.9 L522.1 394.3 L523.5 397.6 L524.8 400.9 L526.2 404.2 L527.6 407.6 L529.0 410.9 L530.5 414.2 L532.0 417.5 L533.5 420.7 L535.1 424.0 L536.7 427.2 L538.3 430.5 L539.9 433.7 L541.6 436.9 L543.3 440.1 L545.0 443.3 L546.7 446.4 L548.5 449.6 L550.3 452.7 L552.2 455.8 L554.1 458.9 L556.0 462.0 L557.9 465.0 L559.9 468.0 L561.9 471.0 L563.9 474.0 L566.0 476.9 L568.0 479.9 L570.2 482.8 L572.3 485.6 L574.5 488.5 L576.7 491.3 L579.0 494.1 L581.3 496.8 L583.6 499.6 L585.9 502.3 L588.3 504.9 L590.7 507.6 L593.2 510.2 L595.7 512.7 L598.2 515.3 L600.7 517.8 L603.3 520.2 L605.9 522.7 L608.6 525.0 L611.3 527.4 L614.0 529.7 L616.7 532.0 L619.5 534.2 L622.3 536.4 L625.2 538.5 L628.1 540.6 L631.0 542.7 L634.0 544.7 L637.0 546.6 L640.0 548.5 L643.1 550.4 L646.2 552.2 L649.3 554.0 L652.4 555.7 L655.6 557.3 L658.8 558.9 L662.1 560.4 L665.4 561.8 L668.7 563.2 L672.0 564.6 L675.4 565.8 L678.8 567.0 L682.2 568.1 L685.6 569.2 L689.1 570.2 L692.6 571.1 L696.1 571.9 L699.6 572.7 L703.2 573.4 L706.8 574.0 L710.4 574.5 L714.4 575.1 L714.3 587.2 L710.3 586.8 L706.4 586.3 L702.5 585.9 L698.6 585.4 L694.7 585.0 L690.8 584.5 L686.9 584.0 L683.0 583.6 L679.1 583.1 L675.2 582.6 L671.3 582.1 L667.4 581.6 L663.5 581.0 L659.6 580.4 L655.7 579.8 L651.9 579.1 L648.1 578.3 L644.4 577.2 L640.7 576.0 L637.3 574.4 L633.9 572.5 L630.7 570.3 L627.5 567.9 L624.4 565.5 L621.3 563.0 L618.1 560.6 L614.9 558.3 L611.7 556.1 L608.4 553.9 L605.2 551.7 L601.9 549.6 L598.7 547.4 L595.6 545.2 L592.5 542.8 L589.6 540.3 L586.7 537.7 L583.9 535.0 L581.2 532.2 L578.6 529.3 L576.0 526.4 L573.5 523.4 L571.1 520.4 L568.7 517.3 L566.4 514.1 L564.1 510.9 L561.9 507.7 L559.7 504.4 L557.6 501.1 L555.5 497.8 L553.4 494.4 L551.4 491.0 L549.4 487.6 L547.5 484.2 L545.5 480.8 L543.6 477.3 L541.7 473.8 L539.9 470.4 L538.0 466.9 L536.2 463.4 L534.4 459.9 L532.7 456.4 L530.9 452.9 L529.2 449.4 L527.5 445.9 L525.8 442.3 L524.2 438.8 L522.6 435.2 L521.0 431.6 L519.4 428.0 L517.9 424.4 L516.3 420.8 L514.8 417.2 L513.4 413.6 L511.9 410.0 L510.5 406.3 L509.1 402.7 L507.7 399.0 L506.3 395.3 L505.0 391.6 L503.7 387.9 L502.4 384.2 L501.2 380.5 L500.0 376.8 L498.8 373.0 L497.6 369.3 L496.4 365.5 L495.3 361.8 L494.2 358.0 L493.2 354.2 L492.1 350.4 L491.0 346.4Z"/></clipPath>
<path d="M397.8 578.7H710.3" stroke="#9a5e2a" stroke-width="1.7" clip-path="url(#bclipD)"/>
<rect x="612.2" y="587.1" width="98.1" height="8.6" fill="#1e4a9c"/>
<rect x="397.9" y="587.1" width="1.5" height="8.6" fill="#1c2f6e"/>
<path d="M500.8 346.3 L502.0 350.3 L503.0 354.1 L504.1 357.8 L505.3 361.5 L506.4 365.2 L507.6 368.9 L508.8 372.6 L510.0 376.3 L511.3 380.0 L512.5 383.6 L513.8 387.3 L515.2 390.9 L516.5 394.5 L517.9 398.1 L519.2 401.7 L520.6 405.3 L522.0 408.9 L523.5 412.5 L524.9 416.1 L526.4 419.6 L527.9 423.2 L529.4 426.7 L530.9 430.3 L532.4 433.8 L533.9 437.4 L535.5 440.9 L537.0 444.4 L538.6 448.0 L540.2 451.5 L541.7 455.0 L543.3 458.5 L544.9 462.0 L546.5 465.6 L548.2 469.1 L549.8 472.6 L551.4 476.1 L553.0 479.6 L554.7 483.2 L556.3 486.7 L558.0 490.2 L559.6 493.7 L561.4 497.1 L563.1 500.6 L565.0 504.0 L566.8 507.4 L568.8 510.7 L570.8 514.0 L572.9 517.2 L575.1 520.3 L577.4 523.4 L579.7 526.5 L582.1 529.5 L584.6 532.4 L587.2 535.2 L589.9 538.0 L592.6 540.7 L595.5 543.3 L598.3 545.9 L601.3 548.4 L604.3 550.9 L607.3 553.4 L610.3 555.8 L613.3 558.2 L616.4 560.6 L619.5 562.9 L622.7 565.2 L625.9 567.4 L629.1 569.5 L632.4 571.6 L635.7 573.5 L639.1 575.3 L642.5 577.1 L646.0 578.7 L649.5 580.1 L653.1 581.5 L656.7 582.7 L660.4 583.8 L664.2 584.8 L667.9 585.6 L671.8 586.4 L675.6 587.0 L679.5 587.6 L683.3 588.1 L687.2 588.5 L691.1 588.9 L695.0 589.3 L698.8 589.6 L702.7 590.0 L706.5 590.3 L710.2 590.7 L714.2 591.1" stroke="#080808" stroke-width="1.65" fill="none" stroke-linejoin="round"/>
</g>
<circle cx="644.1" cy="578.6" r="5.9" stroke="#25408a" stroke-width="1.5" fill="none"/>
<text x="635.5" y="557.7" font-size="10.5">p=0.005</text>
<path d="M397.8 595.1h2.6 M397.8 567.9h2.6 M397.8 540.7h2.6 M397.8 513.5h2.6 M397.8 486.3h2.6 M397.8 459.2h2.6 M397.8 432.0h2.6 M397.8 404.8h2.6 M397.8 377.6h2.6 M397.8 350.4h2.6 M397.8 595.1v-2.6 M449.9 595.1v-2.6 M502.0 595.1v-2.6 M554.0 595.1v-2.6 M606.1 595.1v-2.6 M658.2 595.1v-2.6 M710.3 595.1v-2.6" stroke="#555" stroke-width="1" fill="none"/>
<text x="394.4" y="600.4" text-anchor="end" font-size="14.2">0</text>
<text x="394.4" y="573.2" text-anchor="end" font-size="14.2">5</text>
<text x="394.4" y="546.0" text-anchor="end" font-size="14.2">10</text>
<text x="394.4" y="518.8" text-anchor="end" font-size="14.2">15</text>
<text x="394.4" y="491.6" text-anchor="end" font-size="14.2">20</text>
<text x="394.4" y="464.5" text-anchor="end" font-size="14.2">25</text>
<text x="394.4" y="437.3" text-anchor="end" font-size="14.2">30</text>
<text x="394.4" y="410.1" text-anchor="end" font-size="14.2">35</text>
<text x="394.4" y="382.9" text-anchor="end" font-size="14.2">40</text>
<text x="394.4" y="355.7" text-anchor="end" font-size="14.2">45</text>
<text x="405.7" y="610.3" text-anchor="end" font-size="14.2">-0.3</text>
<text x="461.3" y="610.3" text-anchor="end" font-size="14.2">-0.25</text>
<text x="509.8" y="610.3" text-anchor="end" font-size="14.2">-0.2</text>
<text x="565.5" y="610.3" text-anchor="end" font-size="14.2">-0.15</text>
<text x="614.0" y="610.3" text-anchor="end" font-size="14.2">-0.1</text>
<text x="669.6" y="610.3" text-anchor="end" font-size="14.2">-0.05</text>
<text x="712.8" y="610.3" text-anchor="end" font-size="14.2">0</text>
<text x="553.5" y="624.4" text-anchor="middle" font-size="14">time (s)</text>
<text transform="translate(374.3 473.6) rotate(-90)" text-anchor="middle" font-size="14.2">ZPPI</text>
<text x="374.8" y="333.5" font-family='"Liberation Sans", sans-serif' font-weight="bold" font-size="16.5">D</text>
<text x="396.8" y="333.3" font-size="21.2">Sham1 (95%)</text>
<text x="554.0" y="339.0" text-anchor="middle" font-size="14.3">C3</text>
<path d="M34.4 668.1V912.3H346.7" stroke="#8c8c8c" stroke-width="1.2" fill="none"/>
<clipPath id="clipE"><rect x="34.4" y="668.1" width="312.8" height="244.8"/></clipPath>
<g clip-path="url(#clipE)">
<path d="M138.1 664.3 L139.6 668.3 L140.9 671.7 L142.1 675.2 L143.4 678.6 L144.6 682.1 L145.9 685.6 L147.1 689.1 L148.3 692.6 L149.5 696.1 L150.8 699.6 L152.0 703.1 L153.2 706.7 L154.4 710.2 L155.7 713.7 L156.9 717.3 L158.2 720.8 L159.4 724.3 L160.7 727.9 L162.0 731.4 L163.3 734.9 L164.6 738.4 L165.9 742.0 L167.3 745.5 L168.7 748.9 L170.1 752.4 L171.5 755.9 L173.0 759.4 L174.4 762.8 L175.9 766.2 L177.5 769.6 L179.0 773.0 L180.7 776.4 L182.3 779.8 L184.0 783.1 L185.7 786.4 L187.4 789.7 L189.2 793.0 L191.1 796.2 L192.9 799.4 L194.9 802.6 L196.9 805.7 L198.9 808.9 L200.9 812.0 L203.1 815.0 L205.2 818.0 L207.5 821.0 L209.7 824.0 L212.0 826.9 L214.4 829.8 L216.8 832.6 L219.3 835.4 L221.8 838.1 L224.3 840.8 L226.9 843.5 L229.6 846.1 L232.3 848.6 L235.0 851.1 L237.8 853.6 L240.6 856.0 L243.5 858.3 L246.4 860.6 L249.4 862.8 L252.4 864.9 L255.5 867.0 L258.6 869.1 L261.8 871.1 L265.0 873.0 L268.2 874.8 L271.5 876.6 L274.8 878.3 L278.2 879.9 L281.6 881.5 L285.0 883.0 L288.5 884.4 L292.0 885.8 L295.5 887.0 L299.0 888.2 L302.6 889.4 L306.2 890.4 L309.8 891.4 L313.4 892.2 L317.1 893.0 L320.7 893.8 L324.4 894.4 L328.1 894.9 L331.8 895.4 L335.6 895.8 L339.3 896.1 L343.0 896.3 L346.8 896.4 L350.8 896.5 L350.5 907.5 L346.5 907.3 L342.6 907.1 L338.7 906.9 L334.8 906.7 L330.8 906.4 L326.9 906.1 L322.9 905.7 L318.9 905.3 L314.8 904.9 L310.8 904.4 L306.8 903.8 L302.8 903.2 L298.8 902.5 L294.8 901.8 L290.8 900.9 L286.8 900.0 L282.9 899.0 L279.0 898.0 L275.1 896.8 L271.3 895.6 L267.5 894.2 L263.8 892.7 L260.2 891.2 L256.5 889.5 L253.0 887.7 L249.5 885.8 L246.1 883.8 L242.8 881.6 L239.5 879.3 L236.4 876.9 L233.3 874.3 L230.4 871.6 L227.5 868.7 L224.6 865.8 L221.8 862.8 L219.0 859.9 L216.2 857.0 L213.3 854.3 L210.4 851.6 L207.5 848.9 L204.8 846.1 L202.2 843.1 L199.7 840.0 L197.4 836.8 L195.1 833.5 L192.9 830.2 L190.7 826.8 L188.6 823.4 L186.5 820.0 L184.4 816.6 L182.4 813.2 L180.4 809.7 L178.4 806.2 L176.5 802.7 L174.6 799.2 L172.7 795.6 L170.9 792.0 L169.1 788.5 L167.3 784.9 L165.6 781.2 L163.9 777.6 L162.2 773.9 L160.5 770.3 L158.9 766.6 L157.3 762.9 L155.7 759.2 L154.2 755.5 L152.7 751.8 L151.2 748.0 L149.7 744.3 L148.2 740.5 L146.8 736.7 L145.4 733.0 L144.0 729.2 L142.6 725.4 L141.3 721.6 L139.9 717.8 L138.6 714.0 L137.3 710.2 L136.1 706.4 L134.8 702.5 L133.5 698.7 L132.3 694.9 L131.1 691.1 L129.9 687.2 L128.7 683.4 L127.5 679.6 L126.4 675.8 L125.2 672.0 L124.1 668.1 L122.9 664.1Z" fill="#8cc873" stroke="#4a7a3e" stroke-width="0.8" stroke-opacity="0.85" stroke-linejoin="round"/>
</g><path d="M86.5 668.1V912.3 M138.5 668.1V912.3 M190.6 668.1V912.3 M242.6 668.1V912.3 M294.6 668.1V912.3 M346.7 668.1V912.3 M34.4 885.2H346.7 M34.4 858.0H346.7 M34.4 830.9H346.7 M34.4 803.8H346.7 M34.4 776.6H346.7 M34.4 749.5H346.7 M34.4 722.4H346.7 M34.4 695.2H346.7 M34.4 668.1H346.7" stroke="#000" stroke-opacity="0.27" stroke-width="1" stroke-dasharray="1 1.75" fill="none"/><g clip-path="url(#clipE)">
<path d="M34.4 896.7H346.7" stroke="#c43a3a" stroke-width="1.5"/>
<clipPath id="bclipE"><path d="M138.1 664.3 L139.6 668.3 L140.9 671.7 L142.1 675.2 L143.4 678.6 L144.6 682.1 L145.9 685.6 L147.1 689.1 L148.3 692.6 L149.5 696.1 L150.8 699.6 L152.0 703.1 L153.2 706.7 L154.4 710.2 L155.7 713.7 L156.9 717.3 L158.2 720.8 L159.4 724.3 L160.7 727.9 L162.0 731.4 L163.3 734.9 L164.6 738.4 L165.9 742.0 L167.3 745.5 L168.7 748.9 L170.1 752.4 L171.5 755.9 L173.0 759.4 L174.4 762.8 L175.9 766.2 L177.5 769.6 L179.0 773.0 L180.7 776.4 L182.3 779.8 L184.0 783.1 L185.7 786.4 L187.4 789.7 L189.2 793.0 L191.1 796.2 L192.9 799.4 L194.9 802.6 L196.9 805.7 L198.9 808.9 L200.9 812.0 L203.1 815.0 L205.2 818.0 L207.5 821.0 L209.7 824.0 L212.0 826.9 L214.4 829.8 L216.8 832.6 L219.3 835.4 L221.8 838.1 L224.3 840.8 L226.9 843.5 L229.6 846.1 L232.3 848.6 L235.0 851.1 L237.8 853.6 L240.6 856.0 L243.5 858.3 L246.4 860.6 L249.4 862.8 L252.4 864.9 L255.5 867.0 L258.6 869.1 L261.8 871.1 L265.0 873.0 L268.2 874.8 L271.5 876.6 L274.8 878.3 L278.2 879.9 L281.6 881.5 L285.0 883.0 L288.5 884.4 L292.0 885.8 L295.5 887.0 L299.0 888.2 L302.6 889.4 L306.2 890.4 L309.8 891.4 L313.4 892.2 L317.1 893.0 L320.7 893.8 L324.4 894.4 L328.1 894.9 L331.8 895.4 L335.6 895.8 L339.3 896.1 L343.0 896.3 L346.8 896.4 L350.8 896.5 L350.5 907.5 L346.5 907.3 L342.6 907.1 L338.7 906.9 L334.8 906.7 L330.8 906.4 L326.9 906.1 L322.9 905.7 L318.9 905.3 L314.8 904.9 L310.8 904.4 L306.8 903.8 L302.8 903.2 L298.8 902.5 L294.8 901.8 L290.8 900.9 L286.8 900.0 L282.9 899.0 L279.0 898.0 L275.1 896.8 L271.3 895.6 L267.5 894.2 L263.8 892.7 L260.2 891.2 L256.5 889.5 L253.0 887.7 L249.5 885.8 L246.1 883.8 L242.8 881.6 L239.5 879.3 L236.4 876.9 L233.3 874.3 L230.4 871.6 L227.5 868.7 L224.6 865.8 L221.8 862.8 L219.0 859.9 L216.2 857.0 L213.3 854.3 L210.4 851.6 L207.5 848.9 L204.8 846.1 L202.2 843.1 L199.7 840.0 L197.4 836.8 L195.1 833.5 L192.9 830.2 L190.7 826.8 L188.6 823.4 L186.5 820.0 L184.4 816.6 L182.4 813.2 L180.4 809.7 L178.4 806.2 L176.5 802.7 L174.6 799.2 L172.7 795.6 L170.9 792.0 L169.1 788.5 L167.3 784.9 L165.6 781.2 L163.9 777.6 L162.2 773.9 L160.5 770.3 L158.9 766.6 L157.3 762.9 L155.7 759.2 L154.2 755.5 L152.7 751.8 L151.2 748.0 L149.7 744.3 L148.2 740.5 L146.8 736.7 L145.4 733.0 L144.0 729.2 L142.6 725.4 L141.3 721.6 L139.9 717.8 L138.6 714.0 L137.3 710.2 L136.1 706.4 L134.8 702.5 L133.5 698.7 L132.3 694.9 L131.1 691.1 L129.9 687.2 L128.7 683.4 L127.5 679.6 L126.4 675.8 L125.2 672.0 L124.1 668.1 L122.9 664.1Z"/></clipPath>
<path d="M34.4 896.7H346.7" stroke="#9a5e2a" stroke-width="1.7" clip-path="url(#bclipE)"/>
<path d="M132.4 664.1 L133.8 668.1 L135.0 671.8 L136.3 675.5 L137.6 679.1 L138.8 682.8 L140.1 686.5 L141.3 690.1 L142.6 693.7 L143.8 697.4 L145.1 701.0 L146.4 704.6 L147.7 708.2 L148.9 711.8 L150.2 715.4 L151.5 719.1 L152.8 722.7 L154.2 726.2 L155.5 729.8 L156.8 733.4 L158.2 737.0 L159.6 740.6 L160.9 744.2 L162.3 747.8 L163.8 751.4 L165.2 755.0 L166.6 758.6 L168.1 762.1 L169.6 765.7 L171.1 769.3 L172.7 772.8 L174.2 776.4 L175.8 779.9 L177.5 783.4 L179.1 787.0 L180.8 790.4 L182.5 793.9 L184.3 797.4 L186.1 800.8 L188.0 804.2 L189.9 807.5 L191.8 810.9 L193.8 814.2 L195.8 817.5 L197.9 820.7 L200.0 823.9 L202.2 827.1 L204.4 830.3 L206.7 833.3 L209.0 836.4 L211.4 839.4 L213.9 842.4 L216.4 845.3 L219.0 848.1 L221.6 850.9 L224.3 853.7 L227.0 856.3 L229.8 858.9 L232.7 861.5 L235.6 864.0 L238.6 866.4 L241.7 868.7 L244.8 870.9 L247.9 873.1 L251.1 875.2 L254.4 877.2 L257.8 879.1 L261.1 880.9 L264.6 882.7 L268.0 884.3 L271.6 885.9 L275.1 887.4 L278.7 888.9 L282.4 890.2 L286.0 891.5 L289.7 892.7 L293.4 893.8 L297.2 894.8 L300.9 895.8 L304.7 896.7 L308.5 897.5 L312.3 898.2 L316.1 898.9 L319.9 899.4 L323.7 899.9 L327.6 900.4 L331.4 900.7 L335.2 901.0 L339.0 901.2 L342.8 901.4 L346.5 901.5 L350.5 901.5" stroke="#080808" stroke-width="1.65" fill="none" stroke-linejoin="round"/>
</g>
<circle cx="302.1" cy="896.6" r="5.9" stroke="#25408a" stroke-width="1.5" fill="none"/>
<text x="294" y="879.8" font-size="10.5">p=0.62</text>
<path d="M34.4 912.3h2.6 M34.4 885.2h2.6 M34.4 858.0h2.6 M34.4 830.9h2.6 M34.4 803.8h2.6 M34.4 776.6h2.6 M34.4 749.5h2.6 M34.4 722.4h2.6 M34.4 695.2h2.6 M34.4 668.1h2.6 M34.4 912.3v-2.6 M86.5 912.3v-2.6 M138.5 912.3v-2.6 M190.6 912.3v-2.6 M242.6 912.3v-2.6 M294.6 912.3v-2.6 M346.7 912.3v-2.6" stroke="#555" stroke-width="1" fill="none"/>
<text x="31.0" y="917.6" text-anchor="end" font-size="14.2">0</text>
<text x="31.0" y="890.5" text-anchor="end" font-size="14.2">5</text>
<text x="31.0" y="863.3" text-anchor="end" font-size="14.2">10</text>
<text x="31.0" y="836.2" text-anchor="end" font-size="14.2">15</text>
<text x="31.0" y="809.1" text-anchor="end" font-size="14.2">20</text>
<text x="31.0" y="781.9" text-anchor="end" font-size="14.2">25</text>
<text x="31.0" y="754.8" text-anchor="end" font-size="14.2">30</text>
<text x="31.0" y="727.7" text-anchor="end" font-size="14.2">35</text>
<text x="31.0" y="700.5" text-anchor="end" font-size="14.2">40</text>
<text x="31.0" y="673.4" text-anchor="end" font-size="14.2">45</text>
<text x="42.3" y="927.5" text-anchor="end" font-size="14.2">-0.3</text>
<text x="97.9" y="927.5" text-anchor="end" font-size="14.2">-0.25</text>
<text x="146.4" y="927.5" text-anchor="end" font-size="14.2">-0.2</text>
<text x="202.0" y="927.5" text-anchor="end" font-size="14.2">-0.15</text>
<text x="250.5" y="927.5" text-anchor="end" font-size="14.2">-0.1</text>
<text x="306.1" y="927.5" text-anchor="end" font-size="14.2">-0.05</text>
<text x="349.2" y="927.5" text-anchor="end" font-size="14.2">0</text>
<text x="190.0" y="941.6" text-anchor="middle" font-size="14">time (s)</text>
<text transform="translate(10.9 791.0) rotate(-90)" text-anchor="middle" font-size="14.2">ZPPI</text>
<text x="4.4" y="651.6" font-family='"Liberation Sans", sans-serif' font-weight="bold" font-size="16.5">E</text>
<text x="34.4" y="651.1" font-size="21.2">Sham2 (95%)</text>
<text x="190.5" y="656.6" text-anchor="middle" font-size="14.3">Oz</text>
<path d="M397.8 666.4V910.6H710.3" stroke="#8c8c8c" stroke-width="1.2" fill="none"/>
<clipPath id="clipF"><rect x="397.8" y="666.4" width="313.0" height="244.8"/></clipPath>
<g clip-path="url(#clipF)">
<path d="M506.9 662.7 L508.5 666.7 L509.8 670.0 L511.2 673.3 L512.5 676.6 L513.8 680.0 L515.1 683.3 L516.5 686.7 L517.8 690.1 L519.1 693.4 L520.4 696.8 L521.7 700.2 L523.0 703.6 L524.4 707.1 L525.7 710.5 L527.0 713.9 L528.4 717.3 L529.7 720.7 L531.1 724.2 L532.4 727.6 L533.8 731.0 L535.2 734.4 L536.6 737.8 L538.0 741.3 L539.5 744.7 L540.9 748.0 L542.4 751.4 L543.9 754.8 L545.4 758.2 L546.9 761.5 L548.5 764.9 L550.1 768.2 L551.7 771.5 L553.3 774.8 L554.9 778.1 L556.6 781.3 L558.3 784.5 L560.1 787.8 L561.9 791.0 L563.7 794.1 L565.5 797.3 L567.4 800.4 L569.3 803.5 L571.2 806.6 L573.2 809.6 L575.2 812.6 L577.3 815.6 L579.4 818.5 L581.5 821.4 L583.7 824.3 L586.0 827.2 L588.3 830.0 L590.6 832.7 L593.0 835.5 L595.4 838.2 L597.8 840.8 L600.4 843.4 L602.9 846.0 L605.6 848.5 L608.3 851.0 L611.0 853.4 L613.8 855.8 L616.7 858.1 L619.6 860.4 L622.5 862.7 L625.5 864.9 L628.6 867.0 L631.6 869.1 L634.7 871.1 L637.7 873.1 L640.8 875.1 L643.9 877.0 L647.0 878.8 L650.2 880.4 L653.4 882.0 L656.7 883.4 L660.0 884.7 L663.5 885.9 L666.9 886.9 L670.5 887.8 L674.1 888.7 L677.7 889.4 L681.3 890.0 L685.0 890.6 L688.6 891.2 L692.3 891.7 L696.0 892.2 L699.6 892.7 L703.2 893.2 L706.7 893.7 L710.3 894.2 L714.3 894.8 L714.3 906.0 L710.3 905.6 L706.4 905.1 L702.6 904.7 L698.7 904.3 L694.8 903.9 L690.9 903.5 L686.9 903.1 L683.0 902.6 L679.1 902.1 L675.2 901.5 L671.3 900.9 L667.5 900.1 L663.6 899.3 L659.8 898.4 L656.1 897.3 L652.4 896.2 L648.7 894.8 L645.1 893.4 L641.6 891.8 L638.1 890.1 L634.6 888.3 L631.2 886.5 L627.8 884.5 L624.4 882.5 L621.0 880.5 L617.7 878.3 L614.4 876.2 L611.2 874.0 L607.9 871.7 L604.7 869.5 L601.6 867.1 L598.5 864.8 L595.4 862.3 L592.5 859.8 L589.6 857.2 L586.8 854.5 L584.0 851.7 L581.4 848.8 L578.8 845.9 L576.4 842.8 L573.9 839.8 L571.6 836.6 L569.3 833.4 L567.1 830.2 L564.9 826.9 L562.8 823.6 L560.7 820.3 L558.7 816.9 L556.7 813.6 L554.7 810.2 L552.8 806.7 L550.9 803.3 L549.0 799.9 L547.2 796.4 L545.4 793.0 L543.6 789.5 L541.8 786.0 L540.0 782.5 L538.3 779.0 L536.5 775.5 L534.8 772.0 L533.1 768.4 L531.4 764.9 L529.8 761.4 L528.1 757.8 L526.5 754.2 L524.9 750.7 L523.3 747.1 L521.8 743.5 L520.2 739.9 L518.7 736.3 L517.2 732.7 L515.7 729.1 L514.2 725.5 L512.7 721.8 L511.3 718.2 L509.9 714.5 L508.5 710.9 L507.1 707.2 L505.7 703.5 L504.4 699.9 L503.1 696.2 L501.8 692.5 L500.5 688.8 L499.2 685.1 L498.0 681.4 L496.7 677.7 L495.5 673.9 L494.3 670.2 L493.2 666.5 L491.9 662.5Z" fill="#8cc873" stroke="#4a7a3e" stroke-width="0.8" stroke-opacity="0.85" stroke-linejoin="round"/>
</g><path d="M449.9 666.4V910.6 M502.0 666.4V910.6 M554.0 666.4V910.6 M606.1 666.4V910.6 M658.2 666.4V910.6 M710.3 666.4V910.6 M397.8 883.5H710.3 M397.8 856.3H710.3 M397.8 829.2H710.3 M397.8 802.1H710.3 M397.8 774.9H710.3 M397.8 747.8H710.3 M397.8 720.7H710.3 M397.8 693.5H710.3 M397.8 666.4H710.3" stroke="#000" stroke-opacity="0.27" stroke-width="1" stroke-dasharray="1 1.75" fill="none"/><g clip-path="url(#clipF)">
<path d="M397.8 894.7H710.3" stroke="#c43a3a" stroke-width="1.5"/>
<clipPath id="bclipF"><path d="M506.9 662.7 L508.5 666.7 L509.8 670.0 L511.2 673.3 L512.5 676.6 L513.8 680.0 L515.1 683.3 L516.5 686.7 L517.8 690.1 L519.1 693.4 L520.4 696.8 L521.7 700.2 L523.0 703.6 L524.4 707.1 L525.7 710.5 L527.0 713.9 L528.4 717.3 L529.7 720.7 L531.1 724.2 L532.4 727.6 L533.8 731.0 L535.2 734.4 L536.6 737.8 L538.0 741.3 L539.5 744.7 L540.9 748.0 L542.4 751.4 L543.9 754.8 L545.4 758.2 L546.9 761.5 L548.5 764.9 L550.1 768.2 L551.7 771.5 L553.3 774.8 L554.9 778.1 L556.6 781.3 L558.3 784.5 L560.1 787.8 L561.9 791.0 L563.7 794.1 L565.5 797.3 L567.4 800.4 L569.3 803.5 L571.2 806.6 L573.2 809.6 L575.2 812.6 L577.3 815.6 L579.4 818.5 L581.5 821.4 L583.7 824.3 L586.0 827.2 L588.3 830.0 L590.6 832.7 L593.0 835.5 L595.4 838.2 L597.8 840.8 L600.4 843.4 L602.9 846.0 L605.6 848.5 L608.3 851.0 L611.0 853.4 L613.8 855.8 L616.7 858.1 L619.6 860.4 L622.5 862.7 L625.5 864.9 L628.6 867.0 L631.6 869.1 L634.7 871.1 L637.7 873.1 L640.8 875.1 L643.9 877.0 L647.0 878.8 L650.2 880.4 L653.4 882.0 L656.7 883.4 L660.0 884.7 L663.5 885.9 L666.9 886.9 L670.5 887.8 L674.1 888.7 L677.7 889.4 L681.3 890.0 L685.0 890.6 L688.6 891.2 L692.3 891.7 L696.0 892.2 L699.6 892.7 L703.2 893.2 L706.7 893.7 L710.3 894.2 L714.3 894.8 L714.3 906.0 L710.3 905.6 L706.4 905.1 L702.6 904.7 L698.7 904.3 L694.8 903.9 L690.9 903.5 L686.9 903.1 L683.0 902.6 L679.1 902.1 L675.2 901.5 L671.3 900.9 L667.5 900.1 L663.6 899.3 L659.8 898.4 L656.1 897.3 L652.4 896.2 L648.7 894.8 L645.1 893.4 L641.6 891.8 L638.1 890.1 L634.6 888.3 L631.2 886.5 L627.8 884.5 L624.4 882.5 L621.0 880.5 L617.7 878.3 L614.4 876.2 L611.2 874.0 L607.9 871.7 L604.7 869.5 L601.6 867.1 L598.5 864.8 L595.4 862.3 L592.5 859.8 L589.6 857.2 L586.8 854.5 L584.0 851.7 L581.4 848.8 L578.8 845.9 L576.4 842.8 L573.9 839.8 L571.6 836.6 L569.3 833.4 L567.1 830.2 L564.9 826.9 L562.8 823.6 L560.7 820.3 L558.7 816.9 L556.7 813.6 L554.7 810.2 L552.8 806.7 L550.9 803.3 L549.0 799.9 L547.2 796.4 L545.4 793.0 L543.6 789.5 L541.8 786.0 L540.0 782.5 L538.3 779.0 L536.5 775.5 L534.8 772.0 L533.1 768.4 L531.4 764.9 L529.8 761.4 L528.1 757.8 L526.5 754.2 L524.9 750.7 L523.3 747.1 L521.8 743.5 L520.2 739.9 L518.7 736.3 L517.2 732.7 L515.7 729.1 L514.2 725.5 L512.7 721.8 L511.3 718.2 L509.9 714.5 L508.5 710.9 L507.1 707.2 L505.7 703.5 L504.4 699.9 L503.1 696.2 L501.8 692.5 L500.5 688.8 L499.2 685.1 L498.0 681.4 L496.7 677.7 L495.5 673.9 L494.3 670.2 L493.2 666.5 L491.9 662.5Z"/></clipPath>
<path d="M397.8 894.7H710.3" stroke="#9a5e2a" stroke-width="1.7" clip-path="url(#bclipF)"/>
<rect x="425.7" y="902.6" width="25.3" height="8.6" fill="#1e4a9c"/>
<rect x="462.9" y="902.6" width="35.1" height="8.6" fill="#1e4a9c"/>
<path d="M492.2 662.4 L493.3 666.4 L494.4 670.2 L495.5 673.9 L496.6 677.7 L497.8 681.4 L499.0 685.0 L500.3 688.7 L501.6 692.3 L503.0 695.9 L504.3 699.5 L505.7 703.0 L507.2 706.6 L508.6 710.1 L510.1 713.6 L511.6 717.1 L513.1 720.6 L514.6 724.1 L516.2 727.6 L517.7 731.1 L519.3 734.6 L520.8 738.1 L522.4 741.6 L524.0 745.1 L525.5 748.7 L527.1 752.2 L528.6 755.7 L530.2 759.3 L531.8 762.9 L533.4 766.4 L535.0 770.0 L536.6 773.5 L538.3 777.0 L540.0 780.5 L541.7 784.0 L543.4 787.5 L545.2 790.9 L547.0 794.3 L548.9 797.7 L550.8 801.0 L552.8 804.3 L554.9 807.6 L557.0 810.8 L559.1 814.0 L561.3 817.1 L563.7 820.1 L566.0 823.1 L568.5 826.0 L571.0 828.9 L573.5 831.7 L576.2 834.5 L578.9 837.2 L581.6 839.9 L584.4 842.5 L587.2 845.1 L590.1 847.6 L593.1 850.1 L596.0 852.5 L599.1 854.9 L602.1 857.3 L605.2 859.6 L608.3 861.9 L611.5 864.2 L614.6 866.4 L617.8 868.6 L621.0 870.7 L624.3 872.9 L627.5 874.9 L630.8 877.0 L634.1 879.0 L637.4 881.1 L640.7 883.0 L644.0 885.0 L647.4 886.9 L650.8 888.7 L654.2 890.4 L657.7 892.0 L661.2 893.4 L664.7 894.8 L668.3 896.0 L672.0 897.1 L675.7 898.0 L679.4 898.8 L683.2 899.5 L687.0 900.0 L690.9 900.4 L694.8 900.7 L698.7 900.9 L702.6 901.0 L706.5 901.1 L710.4 901.0 L714.4 901.0" stroke="#080808" stroke-width="1.65" fill="none" stroke-linejoin="round"/>
</g>
<circle cx="662.7" cy="894.5" r="5.9" stroke="#25408a" stroke-width="1.5" fill="none"/>
<text x="654.6" y="870.2" font-size="10.5">p=0.34</text>
<path d="M397.8 910.6h2.6 M397.8 883.5h2.6 M397.8 856.3h2.6 M397.8 829.2h2.6 M397.8 802.1h2.6 M397.8 774.9h2.6 M397.8 747.8h2.6 M397.8 720.7h2.6 M397.8 693.5h2.6 M397.8 666.4h2.6 M397.8 910.6v-2.6 M449.9 910.6v-2.6 M502.0 910.6v-2.6 M554.0 910.6v-2.6 M606.1 910.6v-2.6 M658.2 910.6v-2.6 M710.3 910.6v-2.6" stroke="#555" stroke-width="1" fill="none"/>
<text x="394.4" y="915.9" text-anchor="end" font-size="14.2">0</text>
<text x="394.4" y="888.8" text-anchor="end" font-size="14.2">5</text>
<text x="394.4" y="861.6" text-anchor="end" font-size="14.2">10</text>
<text x="394.4" y="834.5" text-anchor="end" font-size="14.2">15</text>
<text x="394.4" y="807.4" text-anchor="end" font-size="14.2">20</text>
<text x="394.4" y="780.2" text-anchor="end" font-size="14.2">25</text>
<text x="394.4" y="753.1" text-anchor="end" font-size="14.2">30</text>
<text x="394.4" y="726.0" text-anchor="end" font-size="14.2">35</text>
<text x="394.4" y="698.8" text-anchor="end" font-size="14.2">40</text>
<text x="394.4" y="671.7" text-anchor="end" font-size="14.2">45</text>
<text x="405.7" y="925.8" text-anchor="end" font-size="14.2">-0.3</text>
<text x="461.3" y="925.8" text-anchor="end" font-size="14.2">-0.25</text>
<text x="509.8" y="925.8" text-anchor="end" font-size="14.2">-0.2</text>
<text x="565.5" y="925.8" text-anchor="end" font-size="14.2">-0.15</text>
<text x="614.0" y="925.8" text-anchor="end" font-size="14.2">-0.1</text>
<text x="669.6" y="925.8" text-anchor="end" font-size="14.2">-0.05</text>
<text x="712.8" y="925.8" text-anchor="end" font-size="14.2">0</text>
<text x="553.5" y="939.9" text-anchor="middle" font-size="14">time (s)</text>
<text transform="translate(374.3 789.3) rotate(-90)" text-anchor="middle" font-size="14.2">ZPPI</text>
<text x="374.8" y="651.6" font-family='"Liberation Sans", sans-serif' font-weight="bold" font-size="16.5">F</text>
<text x="396.4" y="651.3" font-size="21.2">Sham2 (95%)</text>
<text x="554.0" y="655.6" text-anchor="middle" font-size="14.3">C3</text>
</svg></body></html>
